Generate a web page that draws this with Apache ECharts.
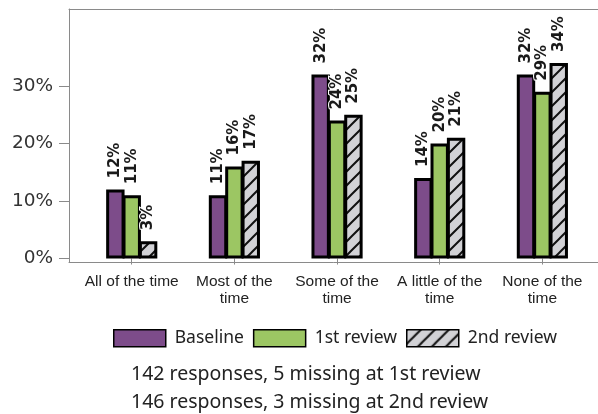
<!DOCTYPE html>
<html>
<head>
<meta charset="utf-8">
<script src="https://cdn.jsdelivr.net/npm/echarts@6/dist/echarts.min.js"></script>
<style>
  html, body { margin: 0; padding: 0; background: #fff; }
  #chart { width: 598px; height: 414px; }
</style>
</head>
<body>
<div id="chart"></div>
<script>
// 数据
var categories = ['All of the time', 'Most of the\ntime', 'Some of the\ntime', 'A little of the\ntime', 'None of the\ntime'];
var baseline = [12, 11, 32, 14, 32];
var review1 = [11, 16, 24, 20, 29];
var review2 = [3, 17, 25, 21, 34];
var yTicks = [0, 10, 20, 30];
var notes = ['142 responses, 5 missing at 1st review', '146 responses, 3 missing at 2nd review'];

// 斜线填充
function hatch() {
  var s = 14;
  var c = document.createElement('canvas');
  c.width = s; c.height = s;
  var ctx = c.getContext('2d');
  ctx.fillStyle = '#d2d2d6';
  ctx.fillRect(0, 0, s, s);
  ctx.strokeStyle = '#111';
  ctx.lineWidth = 2;
  ctx.beginPath();
  ctx.moveTo(-2, s + 2); ctx.lineTo(s + 2, -2);
  ctx.moveTo(-2, 2); ctx.lineTo(2, -2);
  ctx.moveTo(s - 2, s + 2); ctx.lineTo(s + 2, s - 2);
  ctx.stroke();
  return { image: c, repeat: 'repeat' };
}

var myChart = echarts.init(document.getElementById('chart'));

var yMin = -0.6, yMax = 43.4;
var frameLine = { show: true, onZero: false, lineStyle: { color: '#8a8a8a', width: 1 } };
var labelOpt = {
  show: true,
  position: 'top',
  rotate: 90,
  align: 'left',
  verticalAlign: 'middle',
  distance: 11,
  formatter: '{c}%',
  fontFamily: 'DejaVu Sans',
  fontWeight: 'bold',
  fontSize: 15,
  color: '#1a1a1a',
  textBorderColor: '#fff',
  textBorderWidth: 2
};

function barSeries(name, data, color) {
  return {
    name: name,
    type: 'bar',
    xAxisIndex: 2,
    yAxisIndex: 1,
    data: data,
    barWidth: 18.4,
    barGap: '-11%',
    itemStyle: { color: color, borderColor: '#000', borderWidth: 3 },
    label: labelOpt
  };
}

var option = {
  animation: false,
  grid: [
    { left: 69, right: -40, top: 9, bottom: 152, outerBoundsMode: 'none' },
    { left: 80.4, width: 513.3, top: 9, bottom: 152, outerBoundsMode: 'none' }
  ],
  xAxis: [
    // 外框上边
    { type: 'value', gridIndex: 0, position: 'top', min: 0, max: 1, axisLine: frameLine, axisTick: { show: false }, axisLabel: { show: false }, splitLine: { show: false } },
    // 外框下边
    { type: 'value', gridIndex: 0, position: 'bottom', min: 0, max: 1, axisLine: frameLine, axisTick: { show: false }, axisLabel: { show: false }, splitLine: { show: false } },
    {
      type: 'category', gridIndex: 1, data: categories,
      axisLine: { show: false },
      axisTick: { show: true, alignWithLabel: true, length: 6, lineStyle: { color: '#8a8a8a' } },
      axisLabel: { interval: 0, margin: 11, fontFamily: 'Liberation Sans', fontSize: 15.5, lineHeight: 17, color: '#222' }
    }
  ],
  yAxis: [
    {
      type: 'value', gridIndex: 0, min: yMin, max: yMax,
      splitLine: { show: false },
      axisLine: frameLine,
      axisTick: { show: true, length: 10, customValues: yTicks, lineStyle: { color: '#8a8a8a' } },
      axisLabel: { customValues: yTicks, formatter: '{value}%', margin: 16, fontFamily: 'DejaVu Sans', fontSize: 18.5, color: '#333' }
    },
    { type: 'value', gridIndex: 1, min: yMin, max: yMax, show: false, splitLine: { show: false } }
  ],
  legend: {
    left: 108,
    top: 324,
    icon: 'rect',
    itemWidth: 52,
    itemHeight: 17,
    itemGap: 9,
    itemStyle: { borderColor: '#000', borderWidth: 1.5 },
    textStyle: { fontFamily: 'Noto Sans', fontSize: 17.5, color: '#222', padding: [0, 0, 0, 4] },
    data: ['Baseline', '1st review', '2nd review']
  },
  graphic: [
    { type: 'text', left: 131, top: 364, style: { text: notes[0], font: '19.5px "Noto Sans"', fill: '#222' } },
    { type: 'text', left: 131, top: 392, style: { text: notes[1], font: '19.5px "Noto Sans"', fill: '#222' } }
  ],
  series: [
    barSeries('Baseline', baseline, '#7d4c8a'),
    barSeries('1st review', review1, '#9cc663'),
    barSeries('2nd review', review2, hatch())
  ]
};

myChart.setOption(option);
</script>
</body>
</html>
